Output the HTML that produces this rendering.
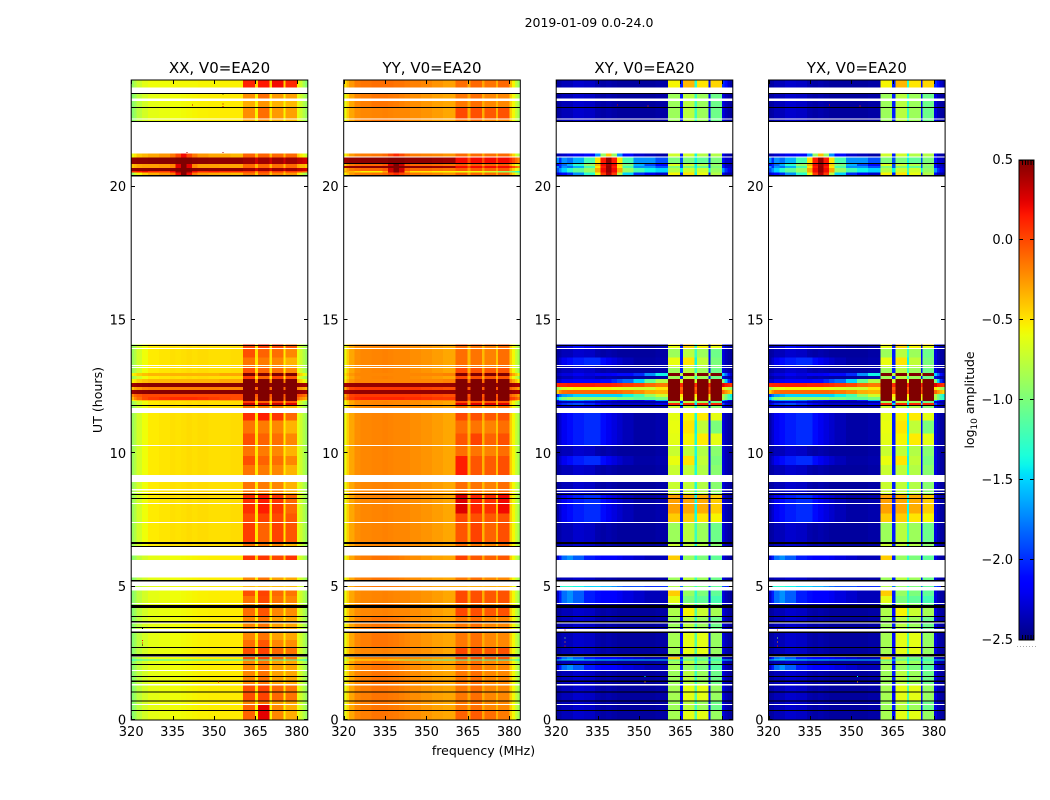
<!DOCTYPE html>
<html>
<head>
<meta charset="utf-8">
<title>2019-01-09 amplitude waterfall</title>
<style>
html,body{margin:0;padding:0;background:#fff;}
svg{display:block;}
text{font-family:"DejaVu Sans","Liberation Sans",sans-serif;fill:#000;}
</style>
</head>
<body>
<svg id="figure" xmlns="http://www.w3.org/2000/svg" width="1050" height="800" viewBox="0 0 1050 800">
  <defs>
    <linearGradient id="jet-gradient" x1="0" y1="1" x2="0" y2="0"></linearGradient>
  </defs>
</svg>
<script>
// ---------- chart data (log10 amplitude, frequency in MHz, time in hours) ----------
const chartTitle = "2019-01-09 0.0-24.0";
const panelTitles = ["XX, V0=EA20", "YY, V0=EA20", "XY, V0=EA20", "YX, V0=EA20"];
const freqTicks = [320, 335, 350, 365, 380];
const hourTicks = [0, 5, 10, 15, 20];
const colorbarTicks = [0.5, 0.0, -0.5, -1.0, -1.5, -2.0, -2.5];
const freqEdges = [320,321,322,324,326,330,334,336,338,340,342,344,348,352,356,360.5,364.8,366,370.2,371,375.2,375.9,380,381,382,383,384];

// XX spectra
const xxUpperLeft = [-.88,-.8,-.68,-.58,-.52,-.5,-.48,-.49,-.48,-.47,-.48,-.47,-.48,-.48,-.47];
const xxLowerLeft = [-.95,-.88,-.76,-.68,-.62,-.6,-.58,-.58,-.57,-.56,-.55,-.54,-.53,-.52,-.52];
const xxRight = [-.6,-.7,-.8,-.88];
const xA = [...xxUpperLeft,-.14,-.5,-.16,-.5,-.2,-.52,-.34,...xxRight];
const xA2 = [...xxUpperLeft,-.02,-.48,-.08,-.5,-.12,-.52,-.2,...xxRight];
const xB = [...xxUpperLeft,.08,-.5,.14,-.5,.06,-.5,-.1,...xxRight];
const xB2 = [...xxUpperLeft,.0,-.5,.02,-.5,.0,-.5,-.05,...xxRight];
const xC = [...xxLowerLeft,-.2,-.52,-.14,-.52,-.28,-.52,-.3,...xxRight];
const xC2 = [...xxLowerLeft,-.12,-.48,-.04,-.5,-.2,-.5,-.22,...xxRight];
const xD = [...xxLowerLeft,-.02,-.5,.02,-.5,-.1,-.5,-.14,...xxRight];
const xD2 = [...xxUpperLeft,.04,-.5,-.08,-.5,.02,-.5,-.04,...xxRight];
const xD3 = [...xxLowerLeft,-.14,-.5,.0,-.5,-.14,-.5,-.2,...xxRight];
const xE = [...xxLowerLeft,-.08,-.55,.24,-.55,-.2,-.55,-.32,...xxRight];
const xF = [...xxLowerLeft,.06,-.42,.06,-.42,.0,-.42,.06,...xxRight];
const xO = [...xxLowerLeft,-.35,-.45,-.35,-.45,-.35,-.45,-.35,...xxRight];
const xT = [-.9,-.8,-.7,-.62,-.58,-.58,-.56,-.56,-.56,-.56,-.56,-.55,-.55,-.54,-.54,.12,-.45,.16,-.45,.2,-.45,.1,-.55,-.7,-.85,-.95];
const xU = [...xxLowerLeft,-.32,-.55,-.24,-.52,-.34,-.55,-.36,...xxRight];
const xU2 = [...xxLowerLeft,-.22,-.55,-.12,-.52,-.26,-.55,-.28,...xxRight];
const xH = [.46,.46,.47,.47,.48,.48,.48,.5,.5,.5,.48,.47,.46,.46,.46,.42,.3,.42,.3,.42,.3,.42,.36,.34,.3,.28];
const xI = [-.4,-.35,-.3,-.28,-.28,-.26,-.2,.25,.5,.25,-.2,-.28,-.28,-.3,-.3,-.1,-.35,-.1,-.35,-.12,-.35,-.1,-.3,-.35,-.35,-.4];
const xJ = [.1,.1,.15,.2,.1,.05,.2,.45,.5,.45,.2,.1,.15,.1,.1,.05,-.2,.05,-.2,.05,-.2,.05,.0,.0,-.05,-.1];
const xK = [-.9,-.7,-.55,-.42,-.32,-.25,-.15,.2,.5,.2,-.15,-.26,-.3,-.33,-.36,-.15,-.42,-.1,-.42,-.2,-.42,-.24,-.5,-.65,-.8,-.9];
const xL = [-.6,-.5,-.4,-.35,-.3,-.25,-.15,.0,.2,.0,-.15,-.25,-.3,-.3,-.35,-.08,-.35,-.08,-.35,-.1,-.35,-.1,-.4,-.5,-.6,-.7];
const xP = [-.55,-.5,-.42,-.38,-.35,-.35,-.34,-.34,-.34,-.34,-.34,-.34,-.34,-.3,-.3,.5,-.2,.5,-.2,.5,-.2,.5,-.35,-.45,-.55,-.65];
const xQ = [.42,.44,.46,.47,.48,.48,.48,.48,.48,.48,.48,.48,.48,.48,.48,.5,.46,.5,.46,.5,.46,.5,.46,.44,.42,.4];
const xN = [-.4,-.3,-.25,-.2,-.18,-.18,-.18,-.18,-.18,-.18,-.18,-.18,-.18,-.2,-.2,.5,-.1,.5,-.1,.5,-.1,.5,-.2,-.25,-.3,-.35];
const xN2 = [-.2,-.1,-.05,.0,.0,.0,.0,.0,.0,.0,.0,.0,.0,.0,.0,.5,-.05,.5,-.05,.5,-.05,.5,.0,-.05,-.1,-.15];
const xR = [-.35,-.2,-.1,.0,.05,.08,.1,.1,.1,.1,.1,.08,.05,.02,.0,.5,-.1,.5,-.1,.5,-.1,.5,-.1,-.2,-.25,-.3];
const xS = [...xxUpperLeft,.3,-.4,.3,-.4,.3,-.4,.25,...xxRight];
const xV = [-1.35,-1.35,-1.3,-1.3,-1.3,-1.3,-1.3,-1.3,-1.3,-1.3,-1.3,-1.3,-1.3,-1.3,-1.3,-1.2,-1.3,-1.2,-1.3,-1.2,-1.3,-1.2,-1.3,-1.35,-1.35,-1.4];

// YY spectra
const yyLeft = [-.6,-.42,-.3,-.22,-.2,-.19,-.18,-.19,-.2,-.2,-.2,-.22,-.24,-.27,-.3];
const yyLowerLeft = [-.62,-.45,-.3,-.2,-.17,-.14,-.14,-.15,-.16,-.18,-.2,-.22,-.25,-.28,-.3];
const yyRight = [-.42,-.56,-.72,-.85];
const yA = [...yyLeft,-.12,-.36,-.14,-.36,-.18,-.4,-.12,...yyRight];
const yB = [...yyLeft,.26,-.34,.12,-.34,.08,-.38,.2,...yyRight];
const yB2 = [...yyLeft,.14,-.34,-.04,-.34,-.06,-.38,-.02,...yyRight];
const yC = [...yyLowerLeft,-.15,-.3,-.12,-.32,-.2,-.35,-.2,...yyRight];
const yD = [...yyLeft,.0,-.32,-.02,-.32,-.05,-.34,-.03,...yyRight];
const yD2 = [...yyLeft,-.04,-.34,.02,-.34,-.08,-.36,-.02,...yyRight];
const yE = [...yyLowerLeft,-.08,-.3,-.06,-.3,-.12,-.32,-.16,...yyRight];
const yF = [...yyLowerLeft,.02,-.28,-.05,-.3,-.08,-.3,-.05,...yyRight];
const yO = [...yyLowerLeft,-.3,-.35,-.3,-.35,-.3,-.35,-.3,...yyRight];
const yT = [-.5,-.35,-.25,-.16,-.14,-.12,-.12,-.12,-.14,-.14,-.16,-.18,-.2,-.24,-.28,-.12,-.3,-.1,-.3,-.14,-.32,-.1,-.35,-.55,-.75,-.9];
const yH = [.42,.44,.46,.46,.47,.47,.47,.5,.5,.5,.47,.46,.46,.44,.42,.2,.0,.2,.0,.2,.0,.2,.1,.0,-.1,-.2];
const yI = [-.4,-.25,-.16,-.12,-.1,-.1,-.05,.3,.5,.3,-.05,-.1,-.1,-.12,-.14,-.05,-.25,-.05,-.25,-.08,-.25,-.05,-.3,-.45,-.6,-.7];
const yJ = [-.3,-.3,-.35,-.45,-.55,-.55,-.3,.3,.5,.3,-.3,-.5,-.5,-.55,-.55,-.6,-.6,-.6,-.6,-.7,-.7,-.9,-1.0,-1.1,-1.2,-1.3];
const yL = [-.55,-.4,-.26,-.18,-.16,-.14,-.1,.0,.1,.0,-.1,-.16,-.18,-.2,-.24,-.1,-.3,-.1,-.3,-.12,-.3,-.1,-.3,-.45,-.65,-.8];
const yP = [-.5,-.35,-.25,-.2,-.2,-.2,-.2,-.2,-.2,-.2,-.2,-.2,-.2,-.2,-.18,.5,-.12,.5,-.12,.5,-.12,.5,-.18,-.3,-.4,-.55];
const yQ = [.4,.42,.44,.45,.45,.45,.45,.45,.45,.45,.45,.45,.45,.45,.45,.5,.45,.5,.45,.5,.45,.5,.45,.42,.4,.38];
const yN = [-.3,-.1,.02,.05,.05,.05,.05,.05,.05,.05,.05,.05,.02,.0,-.02,.5,-.05,.5,-.05,.5,-.05,.5,-.08,-.15,-.2,-.3];
const yR = [-.2,-.05,.05,.1,.12,.12,.12,.12,.12,.12,.1,.1,.08,.06,.05,.5,.0,.5,.0,.5,.0,.5,.05,.02,-.05,-.15];
const yS = [...yyLeft,.25,-.3,.25,-.3,.25,-.3,.25,...yyRight];
const yV = [-.9,-.8,-.6,-.5,-.5,-.5,-.5,-.6,-.7,-.8,-.9,-1.0,-1.1,-1.1,-1.2,-1.2,-1.2,-1.2,-1.25,-1.25,-1.3,-1.3,-1.3,-1.3,-1.35,-1.4];

// Cross-hand spectra (XY and YX are read as the same picture)
const quietLeft = [-2.42,-2.4,-2.35,-2.35,-2.3,-2.32,-2.38,-2.4,-2.38,-2.4,-2.42,-2.42,-2.42,-2.42,-2.4];
const patchLeft = [-2.4,-2.3,-2.2,-2.1,-2.05,-2.0,-2.0,-2.1,-2.2,-2.25,-2.3,-2.35,-2.4,-2.4,-2.38];
const brightLeft = [-2.3,-2.05,-1.8,-1.7,-1.85,-2.05,-2.1,-2.15,-2.15,-2.15,-2.2,-2.25,-2.3,-2.35,-2.35];
const coolRight = [-2.25,-2.35,-2.4,-2.42];
const cA = [...quietLeft,-.72,-2.05,-.75,-1.35,-.8,-2.1,-.95,...coolRight];
const cB = [...patchLeft,-.28,-2.05,-.3,-1.4,-.32,-2.1,-.42,...coolRight];
const cB2 = [...patchLeft,-.42,-2.05,-.42,-1.35,-.5,-2.1,-.55,...coolRight];
const cC = [...quietLeft,-.88,-2.05,-.78,-1.25,-.88,-2.1,-1.05,...coolRight];
const cD = [...patchLeft,-.62,-2.05,-.55,-1.35,-.52,-2.1,-.62,...coolRight];
const cE = [...quietLeft,-.85,-2.1,-.62,-1.15,-.62,-2.1,-.9,...coolRight];
const cE2 = [...quietLeft,-.82,-2.1,-.55,-1.15,-.72,-2.1,-.85,...coolRight];
const cH = [...patchLeft,-.6,-2.05,-.5,-1.4,-.75,-2.1,-1.0,...coolRight];
const cF = [...brightLeft,-.42,-2.05,-.9,-1.3,-1.0,-2.1,-1.1,...coolRight];
const cF2 = [...brightLeft,-.62,-2.05,-1.0,-1.25,-1.1,-2.1,-1.2,...coolRight];
const cF3 = [...brightLeft,-.85,-2.05,-.9,-1.2,-1.0,-2.1,-1.15,...coolRight];
const cG = [...quietLeft,-.55,-2.05,-.35,-1.3,-.5,-2.1,-.45,-2.0,-2.1,-2.3,-2.4];
const cI = [-2.38,-2.35,-2.3,-2.25,-2.1,-2.2,-2.25,-2.25,-2.3,-2.25,-2.25,-2.3,-2.35,-2.38,-2.35,-.6,-2.05,-.45,-1.3,-.55,-2.1,-.6,-2.1,-2.3,-2.4,-2.42];
const cO = [-1.6,-1.4,-1.3,-1.3,-1.4,-1.5,-1.5,-1.6,-1.6,-1.7,-1.8,-1.9,-1.9,-2.0,-2.0,-.8,-1.8,-.9,-1.3,-1.0,-1.8,-1.1,-1.9,-2.0,-2.1,-2.1];
const cV = [-1.5,-1.45,-1.4,-1.4,-1.4,-1.4,-1.45,-1.45,-1.45,-1.45,-1.5,-1.5,-1.5,-1.5,-1.5,-1.2,-1.5,-1.2,-1.4,-1.2,-1.5,-1.3,-1.5,-1.5,-1.55,-1.6];
const cP0 = [-2.35,-2.3,-2.25,-2.25,-2.2,-2.25,-2.2,-2.2,-2.2,-2.15,-2.1,-2.1,-2.0,-1.7,-1.4,.5,-.8,.5,-.8,.5,-.8,.5,-1.5,-1.8,-2.1,-2.3];
const cP1 = [-2.3,-2.3,-2.2,-2.2,-2.15,-2.15,-2.15,-2.1,-2.1,-2.0,-1.9,-1.8,-1.5,-1.1,-.8,.5,-.7,.5,-.7,.5,-.7,.5,-1.0,-1.5,-2.0,-2.3];
const cP2 = [.1,.12,.12,.14,.14,.14,.12,.12,.12,.1,.08,.04,.0,-.1,-.15,.5,.1,.5,.1,.5,.1,.5,.25,.15,.1,.05];
const cP3 = [-.9,-.75,-.65,-.6,-.55,-.55,-.55,-.55,-.55,-.6,-.62,-.66,-.7,-.7,-.5,.5,-.1,.5,-.1,.5,-.1,.5,-.5,-.7,-.8,-.9];
const cP4 = [-.42,-.22,-.12,-.1,-.1,-.1,-.1,-.1,-.1,-.1,-.12,-.16,-.22,-.32,-.35,.5,.0,.5,.0,.5,.0,.5,-.1,-.25,-.35,-.45];
const cP5 = [-2.0,-1.8,-1.65,-1.6,-1.5,-1.5,-1.5,-1.5,-1.5,-1.5,-1.5,-1.4,-1.2,-.9,-.7,.5,-.5,.5,-.5,.5,-.5,.5,-.8,-1.0,-1.2,-1.4];
const cP6 = [-1.5,-1.2,-1.0,-.9,-.9,-.9,-.9,-.9,-.9,-.9,-1.0,-1.0,-1.1,-1.1,-1.0,.5,-.6,.5,-.6,.5,-.6,.5,-.8,-1.0,-1.2,-1.3];
const cP7 = [-2.1,-1.8,-1.7,-1.65,-1.65,-1.75,-1.9,-2.0,-2.05,-2.1,-2.2,-2.2,-2.25,-2.05,-1.6,.5,-.9,.5,-.9,.5,-.9,.5,-1.5,-1.8,-2.1,-2.3];
const cP8 = [-2.3,-2.1,-2.0,-1.95,-1.9,-2.0,-2.1,-2.2,-2.25,-2.3,-2.3,-2.3,-2.3,-2.3,-2.2,.1,-1.5,.1,-1.5,.1,-1.5,.1,-1.9,-2.2,-2.3,-2.4];
const cHotEdge = [-2.4,-2.35,-2.3,-2.25,-2.2,-2.1,-1.7,-.9,-.4,-.9,-1.7,-2.1,-2.3,-2.35,-2.4,-.7,-2.05,-.7,-1.4,-.8,-2.05,-.8,-2.2,-2.35,-2.4,-2.42];
const cHot1 = [-1.7,-2.0,-1.7,-1.8,-1.6,-1.2,-.5,.15,.45,.15,-.5,-1.2,-1.7,-1.7,-1.9,-1.0,-1.9,-1.0,-1.4,-1.1,-1.9,-1.0,-2.1,-2.3,-2.3,-2.35];
const cHot2 = [-2.2,-2.0,-1.8,-1.6,-1.3,-.9,-.35,.2,.42,.2,-.45,-1.0,-1.6,-1.9,-2.1,-.65,-1.9,-.7,-1.4,-.8,-1.9,-.9,-2.1,-2.3,-2.35,-2.4];
const cHot3 = [-1.9,-1.7,-1.5,-1.3,-1.1,-.9,-.3,.2,.45,.2,-.3,-.9,-1.2,-1.4,-1.5,-.8,-1.4,-.7,-1.2,-.7,-1.4,-.9,-1.7,-2.0,-2.2,-2.3];
const cHot4 = [-2.3,-2.2,-2.1,-2.0,-1.7,-1.3,-.6,.05,.35,.05,-.8,-1.5,-2.0,-2.2,-2.3,-.55,-2.05,-.5,-1.4,-.6,-2.05,-.8,-2.2,-2.35,-2.4,-2.42];

// Time rows: hour at top, hour at bottom, then the spectrum of XX, YY, cross-hand.
const GAP = null;
const FLAG = "flagged";
const timeRows = [
  [24.00,23.71,xT,yT,cG],
  [23.51,23.47,FLAG,FLAG,FLAG],
  [23.47,23.31,xU2,yC,cC],
  [23.21,22.99,xU,yC,cC],
  [22.99,22.95,FLAG,FLAG,FLAG],
  [22.95,22.56,xU2,yD,cC],
  [22.52,22.47,xU,yC,cC],
  [22.47,22.43,FLAG,FLAG,FLAG],
  [21.25,21.13,xL,yL,cHotEdge],
  [21.13,21.09,xL,GAP,GAP],
  [21.09,20.89,xH,yH,cHot1],
  [20.89,20.85,xH,FLAG,FLAG],
  [20.85,20.78,xI,yI,cHot2],
  [20.78,20.70,xI,yH,cHot1],
  [20.70,20.59,xH,yI,cHot3],
  [20.59,20.53,xJ,yJ,cHot3],
  [20.53,20.43,xK,yL,cHot4],
  [20.43,20.39,FLAG,FLAG,FLAG],
  [14.09,14.06,xB,yD,cG],
  [14.06,14.03,FLAG,FLAG,FLAG],
  [14.03,13.95,xB2,yA,cI],
  [13.91,13.60,xA2,yA,cC],
  [13.60,13.31,xA,yA,cH],
  [13.28,13.24,xA,yA,cA],
  [13.20,13.01,xA2,yD,cC],
  [13.01,12.90,xP,yP,cP0],
  [12.90,12.79,xD2,yD,cC],
  [12.79,12.64,xP,yP,cP1],
  [12.64,12.49,xQ,yQ,cP2],
  [12.49,12.38,xN,yN,cP3],
  [12.38,12.23,xQ,yQ,cP4],
  [12.23,12.11,xN2,yN,cP5],
  [12.11,12.00,xR,yR,cP6],
  [12.00,11.96,xP,yP,cP7],
  [11.96,11.89,xD2,yD,cC],
  [11.89,11.81,xS,yS,cP8],
  [11.81,11.78,FLAG,FLAG,FLAG],
  [11.78,11.70,xA,yA,cA],
  [11.51,11.24,xB,yD,cD],
  [11.24,10.75,xA,yA,cH],
  [10.75,10.31,xA2,yD2,cD],
  [10.28,9.90,xA,yA,cA],
  [9.90,9.56,xA2,yB2,cH],
  [9.56,9.19,xA,yB2,cA],
  [8.93,8.66,xA,yA,cA],
  [8.61,8.55,xA,yA,cA],
  [8.51,8.48,xA,yA,cA],
  [8.48,8.44,FLAG,FLAG,FLAG],
  [8.44,8.33,xB,yB,cB],
  [8.33,8.29,FLAG,FLAG,FLAG],
  [8.29,8.14,xB,yB,cB],
  [8.10,7.75,xB,yB,cB],
  [7.75,7.43,xB2,yD,cB2],
  [7.39,6.68,xD2,yD2,cC],
  [6.68,6.60,FLAG,FLAG,FLAG],
  [6.60,6.53,xA,yA,cA],
  [6.53,6.48,FLAG,FLAG,FLAG],
  [6.16,6.00,xF,yF,cF],
  [5.35,5.25,xC,yC,cC],
  [5.25,5.19,FLAG,FLAG,FLAG],
  [5.03,4.99,xO,yO,cO],
  [4.85,4.65,xD,yD,cF],
  [4.65,4.39,xD3,yD,cF2],
  [4.35,4.31,xC,yC,cC],
  [4.31,4.20,FLAG,FLAG,FLAG],
  [4.20,3.90,xC2,yD,cE2],
  [3.90,3.86,FLAG,FLAG,FLAG],
  [3.86,3.71,xC,yC,cC],
  [3.71,3.66,FLAG,FLAG,FLAG],
  [3.62,3.49,xC,yC,cC],
  [3.49,3.45,FLAG,FLAG,FLAG],
  [3.45,3.41,xC,yC,cC],
  [3.32,3.26,FLAG,FLAG,FLAG],
  [3.26,3.00,xC,yC,cE],
  [3.00,2.74,xC2,yC,cE],
  [2.74,2.70,FLAG,FLAG,FLAG],
  [2.70,2.48,xD,yD,cE],
  [2.48,2.38,FLAG,FLAG,FLAG],
  [2.36,2.27,xD,yD,cF],
  [2.27,2.23,xV,yV,cV],
  [2.23,2.10,xC,yC,cC],
  [2.10,2.06,FLAG,FLAG,FLAG],
  [2.06,1.88,xC,yC,cF3],
  [1.84,1.65,xC,yC,cC],
  [1.65,1.61,FLAG,FLAG,FLAG],
  [1.61,1.48,xC,yC,cC],
  [1.48,1.43,FLAG,FLAG,FLAG],
  [1.43,1.35,xC,yC,cC],
  [1.29,1.07,xD,yC,cE],
  [1.07,1.03,FLAG,FLAG,FLAG],
  [1.03,0.73,xD,yC,cE],
  [0.73,0.69,FLAG,FLAG,FLAG],
  [0.69,0.60,xC,yC,cC],
  [0.56,0.38,xE,yC,cC],
  [0.38,0.34,FLAG,FLAG,FLAG],
  [0.34,0.00,xE,yE,cE]
];

// Isolated bright samples: hour, frequency, log10 amplitude.
const xxSpikes = [[23.50,353,-2.5],[23.12,353,.3],[23.02,353,.3],[23.08,342,.3],[3.45,324,-2.5],[3.0,324,.2],[2.9,324,.1],[2.83,324,-2.5],[1.45,351.5,.3],[21.3,340,.4],[21.3,353,.4]];
const crossSpikes = [[23.08,342,.3],[23.05,353,.1],[3.4,323,.2],[3.1,323,-.9],[2.95,323,-.2],[2.8,323,.2],[1.45,352,-.3],[1.65,352,-1.4]];

// ---------- drawing ----------
const svgNS = "http://www.w3.org/2000/svg";
const figure = document.getElementById("figure");
const panelLefts = [131.2, 343.7, 556.2, 768.5];
const panelWidth = 176.6;
const plotTop = 80, plotHeight = 640;
const freqMin = 320, freqMax = 384, hourMin = 0, hourMax = 24;
const cbarLeft = 1019, cbarWidth = 15, cbarTop = 160, cbarHeight = 480;
const vMin = -2.5, vMax = 0.5;

function xScale(left, f) { return left + (f - freqMin) / (freqMax - freqMin) * panelWidth; }
function yScale(h) { return plotTop + (hourMax - h) / (hourMax - hourMin) * plotHeight; }
function cbarY(v) { return cbarTop + (vMax - v) / (vMax - vMin) * cbarHeight; }

function lerp(stops, f) {
  for (let i = 1; i < stops.length; i++) {
    if (f <= stops[i][0]) {
      const a = stops[i - 1], b = stops[i];
      return a[1] + (b[1] - a[1]) * (f - a[0]) / (b[0] - a[0]);
    }
  }
  return stops[stops.length - 1][1];
}
function jetColor(v) {
  const f = Math.max(0, Math.min(1, (v - vMin) / (vMax - vMin)));
  const r = lerp([[0,0],[.35,0],[.66,1],[.89,1],[1,.5]], f);
  const g = lerp([[0,0],[.125,0],[.375,1],[.64,1],[.91,0],[1,0]], f);
  const b = lerp([[0,.5],[.11,1],[.34,1],[.65,0],[1,0]], f);
  return "rgb(" + Math.round(r * 255) + "," + Math.round(g * 255) + "," + Math.round(b * 255) + ")";
}

function addRect(parent, name, x, y, w, h, fill) {
  const el = document.createElementNS(svgNS, "rect");
  el.setAttribute("x", x);
  el.setAttribute("y", y);
  el.setAttribute("width", w);
  el.setAttribute("height", h);
  el.setAttribute("fill", fill);
  
  
  parent.appendChild(el);
  return el;
}
function addLine(parent, name, x1, y1, x2, y2) {
  const el = document.createElementNS(svgNS, "line");
  el.setAttribute("x1", x1);
  el.setAttribute("y1", y1);
  el.setAttribute("x2", x2);
  el.setAttribute("y2", y2);
  el.setAttribute("stroke", "#000");
  el.setAttribute("stroke-width", "1");
  el.setAttribute("shape-rendering", "crispEdges");
  
  
  parent.appendChild(el);
  return el;
}
function addText(parent, name, x, y, str, size, anchor) {
  const el = document.createElementNS(svgNS, "text");
  el.setAttribute("x", x);
  el.setAttribute("y", y);
  el.setAttribute("font-size", size);
  el.setAttribute("text-anchor", anchor);
  
  
  el.textContent = str;
  parent.appendChild(el);
  return el;
}
function addGroup(name) {
  const g = document.createElementNS(svgNS, "g");
  
  
  figure.appendChild(g);
  return g;
}

addText(figure, "figure-title", 589, 27, chartTitle, 12.5, "middle");

function drawPanel(index, spectrumSlot, spikes) {
  const left = panelLefts[index];
  const slug = panelTitles[index].slice(0, 2).toLowerCase();
  const panel = addGroup(slug + "-panel");
  const cells = addGroup(slug + "-heatmap");
  cells.setAttribute("shape-rendering", "crispEdges");
  panel.appendChild(cells);

  timeRows.forEach(function (row) {
    const spec = row[spectrumSlot];
    if (spec === GAP) return;
    const y0 = yScale(row[0]);
    const h = yScale(row[1]) - y0;
    if (spec === FLAG) {
      addRect(cells, "flagged-row", left, y0, panelWidth, h, "#000");
      return;
    }
    spec.forEach(function (v, c) {
      const x0 = xScale(left, freqEdges[c]);
      const x1 = xScale(left, freqEdges[c + 1]);
      addRect(cells, "heatmap-cell", x0, y0, x1 - x0, h, jetColor(v));
    });
  });

  spikes.forEach(function (s) {
    addRect(cells, "spike-sample", xScale(left, s[1]), yScale(s[0]), 1, 1, s[2] <= vMin ? "#000" : jetColor(s[2]));
  });

  const frame = addRect(panel, slug + "-plot-frame", left, plotTop, panelWidth, plotHeight, "none");
  frame.setAttribute("stroke", "#000");
  frame.setAttribute("stroke-width", "1");

  freqTicks.forEach(function (f) {
    const x = Math.round(xScale(left, f)) + .5;
    addLine(panel, "x-tick-bottom", x, plotTop + plotHeight, x, plotTop + plotHeight - 4);
    addLine(panel, "x-tick-top", x, plotTop, x, plotTop + 4);
    addText(panel, "x-tick-label", xScale(left, f), 736, String(f), 13, "middle");
  });
  hourTicks.forEach(function (h) {
    const y = Math.round(yScale(h)) - .5;
    addLine(panel, "y-tick-left", left, y, left + 4, y);
    addLine(panel, "y-tick-right", left + panelWidth, y, left + panelWidth - 4, y);
    addText(panel, "y-tick-label", left - 5, yScale(h) + 4.5, String(h), 13, "end");
  });
  addText(panel, "panel-title", left + panelWidth / 2, 73, panelTitles[index], 15, "middle");
}

drawPanel(0, 2, xxSpikes);
drawPanel(1, 3, []);
drawPanel(2, 4, crossSpikes);
drawPanel(3, 4, crossSpikes);

addText(figure, "x-axis-title", 483.5, 755, "frequency (MHz)", 12.5, "middle");
const yTitle = addText(figure, "y-axis-title", 0, 0, "UT (hours)", 12.6, "middle");
yTitle.setAttribute("transform", "translate(102,400) rotate(-90)");

// ---------- colorbar ----------
const grad = document.getElementById("jet-gradient");
for (let i = 0; i <= 60; i++) {
  const stop = document.createElementNS(svgNS, "stop");
  stop.setAttribute("offset", (i / 60));
  stop.setAttribute("stop-color", jetColor(vMin + (vMax - vMin) * i / 60));
  grad.appendChild(stop);
}
const cbar = addGroup("colorbar");
const cbarFill = addRect(cbar, "colorbar-gradient", cbarLeft, cbarTop, cbarWidth, cbarHeight, "url(#jet-gradient)");
cbarFill.setAttribute("stroke", "#000");
cbarFill.setAttribute("stroke-width", "1");

colorbarTicks.forEach(function (v) {
  const y = Math.round(cbarY(v)) + (v === vMax ? .5 : -.5);
  addLine(cbar, "colorbar-tick-left", cbarLeft, y, cbarLeft + 4, y);
  addLine(cbar, "colorbar-tick-right", cbarLeft + cbarWidth, y, cbarLeft + cbarWidth - 4, y);
  const label = v < 0 ? "\u2212" + Math.abs(v).toFixed(1) : v.toFixed(1);
  addText(cbar, "colorbar-tick-label", cbarLeft - 6, cbarY(v) + 4, label, 13, "end");
});
[0, 1, 2, 3, 4].forEach(function (i) {
  const x = cbarLeft + 3.5 + i * 2.8;
  addLine(cbar, "colorbar-end-tick-top", x, cbarTop, x, cbarTop + 5);
  addLine(cbar, "colorbar-end-tick-bottom", x, cbarTop + cbarHeight, x, cbarTop + cbarHeight - 5);
});
[0, 1, 2, 3, 4, 5, 6].forEach(function (i) {
  addRect(cbar, "colorbar-minor-dot", cbarLeft - 2 + i * 3, 646, 1, 1, "#aaa");
});

const cbarTitle = addText(figure, "colorbar-title", 0, 0, "", 12.4, "middle");
cbarTitle.setAttribute("transform", "translate(974,400) rotate(-90)");
const logPart = document.createElementNS(svgNS, "tspan");
logPart.textContent = "log";
cbarTitle.appendChild(logPart);
const subPart = document.createElementNS(svgNS, "tspan");
subPart.setAttribute("font-size", "9");
subPart.setAttribute("dy", "3");
subPart.textContent = "10";
cbarTitle.appendChild(subPart);
const ampPart = document.createElementNS(svgNS, "tspan");
ampPart.setAttribute("dy", "-3");
ampPart.textContent = " amplitude";
cbarTitle.appendChild(ampPart);
</script>
</body>
</html>
